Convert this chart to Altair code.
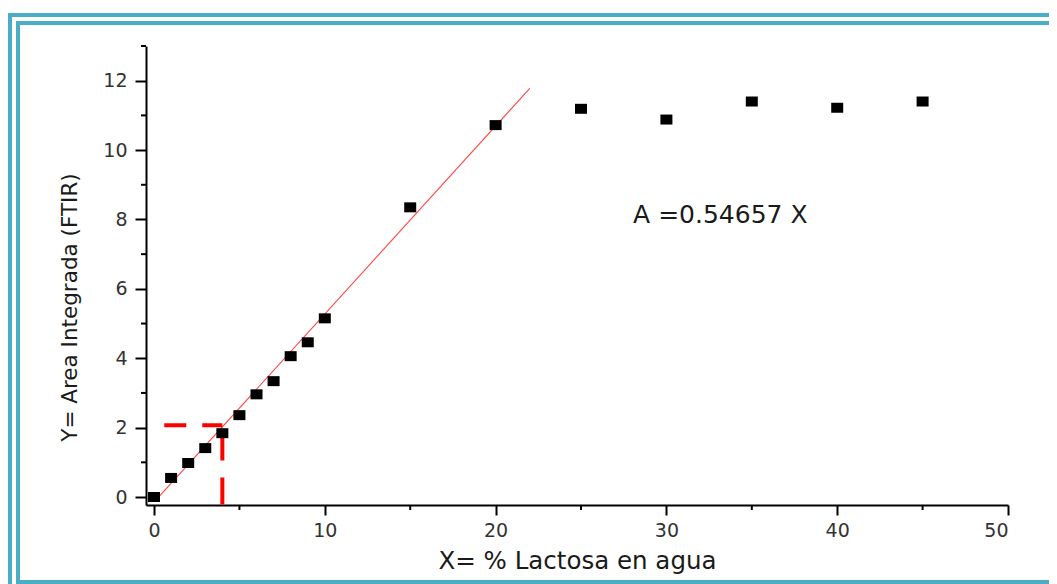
import altair as alt
import pandas as pd

x_pts = [0, 1, 2, 3, 4, 5, 6, 7, 8, 9, 10, 15, 20, 25, 30, 35, 40, 45]
y_pts = [0.0, 0.55, 0.98, 1.41, 1.84, 2.36, 2.96, 3.34, 4.06, 4.46, 5.15,
         8.35, 10.72, 11.19, 10.88, 11.40, 11.22, 11.40]

# Linear fit line endpoints
fit_x = [0.05, 22.0]
fit_y = [-0.12, 11.78]

# Red dashed guide (horizontal and vertical)
guide_h_x = [0.6, 4.0]
guide_h_y = [2.07, 2.07]
guide_v_x = [4.0, 4.0]
guide_v_y = [1.83, -0.23]

# Axis ticks
x_major = [0, 10, 20, 30, 40, 50]
x_minor = [5, 15, 25, 35, 45]
y_major = [0, 2, 4, 6, 8, 10, 12]
y_minor = [1, 3, 5, 7, 9, 11, 13]

x_domain = [-0.47, 50]
y_domain = [-0.23, 13]

annot_text = "A =0.54657 X"
annot_x = 28.05
annot_y = 8.14

x_title = "X= % Lactosa en agua"
y_title = "Y= Area Integrada (FTIR)"

FONT = "DejaVu Sans"
TEAL = "#4AAFC6"

W, H = 862, 459

xs = alt.Scale(domain=x_domain, nice=False, zero=False)
ys = alt.Scale(domain=y_domain, nice=False, zero=False)

pts_df = pd.DataFrame({"x": x_pts, "y": y_pts})
fit_df = pd.DataFrame({"x": fit_x, "y": fit_y})
gh_df = pd.DataFrame({"x": [guide_h_x[0]], "x2": [guide_h_x[1]], "y": [guide_h_y[0]]})
gv_df = pd.DataFrame({"x": [guide_v_x[0]], "y": [guide_v_y[0]], "y2": [guide_v_y[1]]})
xmin_df = pd.DataFrame({"x": x_minor})
ymin_df = pd.DataFrame({"y": y_minor})
ann_df = pd.DataFrame({"x": [annot_x], "y": [annot_y], "t": [annot_text]})
one = pd.DataFrame({"a": [0]})

x_axis = alt.Axis(values=x_major, title=x_title, grid=False, tickSize=10, tickWidth=2,
                  tickColor="black", domainColor="black", domainWidth=2,
                  labelFont=FONT, labelFontSize=19, labelColor="#333333", labelPadding=6,
                  titleFont=FONT, titleFontSize=24.5, titleFontWeight="normal",
                  titleColor="#1a1a1a", titleY=63, titleBaseline="alphabetic")
y_axis = alt.Axis(values=y_major, title=y_title, grid=False, tickSize=11, tickWidth=2,
                  tickColor="black", domainColor="black", domainWidth=2,
                  labelFont=FONT, labelFontSize=19, labelColor="#333333", labelPadding=8,
                  titleFont=FONT, titleFontSize=21.5, titleFontWeight="normal",
                  titleColor="#1a1a1a", titleX=-76, titleY=261, titleAlign="center",
                  titleBaseline="middle")

points = alt.Chart(pts_df).mark_point(
    shape="M-1.2,-1H1.2V1H-1.2Z", filled=True, color="black", opacity=1, size=100
).encode(
    x=alt.X("x:Q", scale=xs, axis=x_axis),
    y=alt.Y("y:Q", scale=ys, axis=y_axis),
)

fit = alt.Chart(fit_df).mark_line(color="#FF4545", strokeWidth=1.1).encode(
    x=alt.X("x:Q", scale=xs), y=alt.Y("y:Q", scale=ys)
)

guide_h = alt.Chart(gh_df).mark_rule(color="#FF0000", strokeWidth=4, strokeDash=[22, 16],
                                     strokeCap="butt").encode(
    x=alt.X("x:Q", scale=xs), x2="x2:Q", y=alt.Y("y:Q", scale=ys)
)
guide_v = alt.Chart(gv_df).mark_rule(color="#FF0000", strokeWidth=4, strokeDash=[27, 17],
                                     strokeCap="butt").encode(
    x=alt.X("x:Q", scale=xs), y=alt.Y("y:Q", scale=ys), y2="y2:Q"
)

xminor = alt.Chart(xmin_df).mark_rule(color="black", strokeWidth=2).encode(
    x=alt.X("x:Q", scale=xs), y=alt.value(H), y2=alt.value(H + 5)
)
yminor = alt.Chart(ymin_df).mark_rule(color="black", strokeWidth=2).encode(
    y=alt.Y("y:Q", scale=ys), x=alt.value(0), x2=alt.value(-5)
)

annot = alt.Chart(ann_df).mark_text(align="left", baseline="middle", font=FONT,
                                    fontSize=25, color="#1a1a1a").encode(
    x=alt.X("x:Q", scale=xs), y=alt.Y("y:Q", scale=ys), text="t:N"
)

outer = alt.Chart(one).mark_rect(fillOpacity=0, stroke=TEAL, strokeWidth=4).encode(
    x=alt.value(-136), x2=alt.value(960), y=alt.value(-31), y2=alt.value(560)
)
inner = alt.Chart(one).mark_rect(fillOpacity=0, stroke=TEAL, strokeWidth=4).encode(
    x=alt.value(-128), x2=alt.value(960), y=alt.value(-23), y2=alt.value(536)
)

chart = alt.layer(
    outer, inner, fit, guide_h, guide_v, xminor, yminor, points, annot
).properties(
    width=W, height=H,
    autosize=alt.AutoSizeParams(type="none"),
    padding={"left": 138, "top": 38, "right": 41, "bottom": 79},
).configure_view(strokeWidth=0)

chart.save("out.html", embed_options={"renderer": "svg", "actions": False})
